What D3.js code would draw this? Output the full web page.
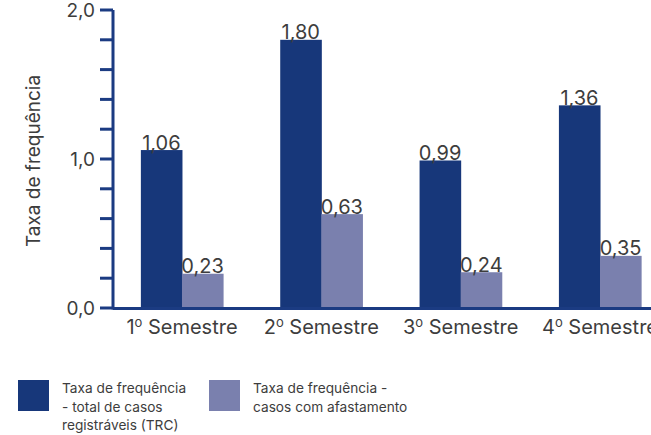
<!DOCTYPE html>
<html><head><meta charset="utf-8">
<script src="https://cdn.jsdelivr.net/npm/d3@7"></script>
<style>body{margin:0;background:#fff}svg{display:block;font-family:Inter,"Liberation Sans",Arial,sans-serif}</style>
</head><body>
<script>
const categories = ["1º Semestre","2º Semestre","3º Semestre","4º Semestre"];
const trcValues = [1.06, 1.80, 0.99, 1.36];
const afastValues = [0.23, 0.63, 0.24, 0.35];
const seriesNames = ["Taxa de frequência - total de casos registráveis (TRC)", "Taxa de frequência - casos com afastamento"];
const legendLines = [["Taxa de frequência","- total de casos","registráveis (TRC)"],["Taxa de frequência -","casos com afastamento"]];
const yTickLabels = ["0,0","1,0","2,0"];
const yMajor = [0,1,2];
const yMinor = [0,0.2,0.4,0.6,0.8,1.0,1.2,1.4,1.6,1.8,2.0];

const W=651,H=435;
const dark="#17377a", light="#7a80ae", axisC="#1b3b82", textC="#3d3d3d";
const svg=d3.select("body").append("svg").attr("width",W).attr("height",H);

const y=d3.scaleLinear().domain([0,2]).range([308,10]);
const x0=d3.scaleBand().domain(categories).range([113,669]).paddingInner(0.41).paddingOuter(0.2);
const x1=d3.scaleBand().domain([0,1]).range([0,x0.bandwidth()]);

const series=[trcValues,afastValues];
const colors=[dark,light];
series.forEach((vals,si)=>{
  const g=svg.append("g");
  g.selectAll("rect").data(vals).join("rect")
    .attr("x",(d,i)=>x0(categories[i])+x1(si)).attr("width",x1.bandwidth()+0.5)
    .attr("y",d=>y(d)).attr("height",d=>y(0)-y(d)).attr("fill",colors[si]);
  g.selectAll("text").data(vals).join("text")
    .attr("x",(d,i)=>x0(categories[i])+x1(si)+x1.bandwidth()/2).attr("y",d=>y(d)-0.5)
    .attr("text-anchor","middle").attr("font-size",20).attr("fill",textC)
    .text(d=>d.toFixed(2).replace(".",","));
});

const ya=svg.append("g");
ya.append("line").attr("x1",113).attr("x2",113).attr("y1",y(2)).attr("y2",y(0)+1.5).attr("stroke",axisC).attr("stroke-width",3);
ya.selectAll("line.t").data(yMinor).join("line").attr("class","t")
  .attr("x1",100).attr("x2",113).attr("y1",d=>y(d)).attr("y2",d=>y(d)).attr("stroke",axisC).attr("stroke-width",3);
ya.selectAll("text").data(yMajor).join("text")
  .attr("x",95).attr("y",d=>y(d)).attr("dy","0.38em").attr("text-anchor","end")
  .attr("font-size",19).attr("fill",textC).text((d,i)=>yTickLabels[i]);

svg.append("line").attr("x1",113).attr("x2",W).attr("y1",308.5).attr("y2",308.5).attr("stroke",axisC).attr("stroke-width",3);
categories.forEach(c=>{
  const parts=c.split("º");
  const t=svg.append("text").attr("x",x0(c)+x0.bandwidth()/2).attr("y",334)
    .attr("text-anchor","middle").attr("font-size",20).attr("fill",textC);
  t.append("tspan").text(parts[0]);
  t.append("tspan").attr("font-size",13).attr("dy",-7).text("o");
  t.append("tspan").attr("dy",7).text(parts[1]);
});

svg.append("text").attr("transform","translate(40,161) rotate(-90)").attr("text-anchor","middle")
  .attr("font-size",19).attr("fill",textC).text("Taxa de frequência");

const legX=[18,209];
legendLines.forEach((lines,i)=>{
  const g=svg.append("g").attr("transform",`translate(${legX[i]},380)`);
  g.append("rect").attr("width",31).attr("height",31).attr("fill",colors[i]);
  g.append("title").text(seriesNames[i]);
  const t=g.append("text").attr("font-size",13.7).attr("fill",textC);
  lines.forEach((l,j)=>t.append("tspan").attr("x",44).attr("y",13+j*18.5).text(l));
});
</script>
</body></html>
